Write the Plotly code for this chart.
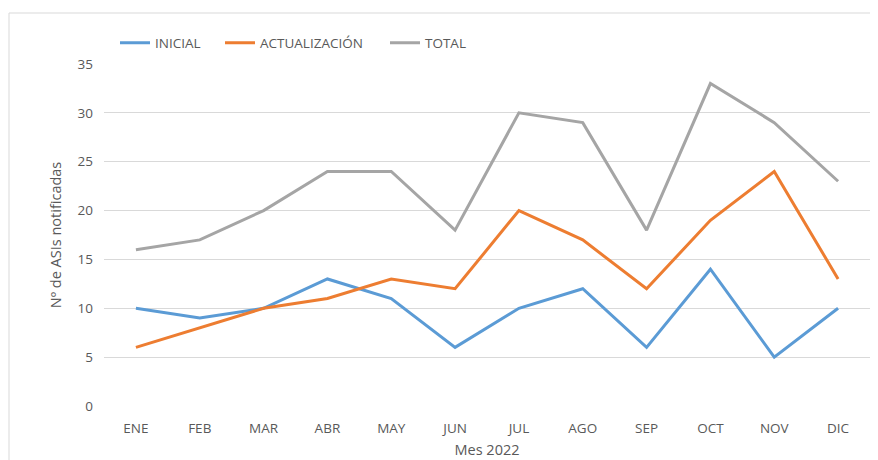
import plotly.graph_objects as go

months = ["ENE", "FEB", "MAR", "ABR", "MAY", "JUN", "JUL", "AGO", "SEP", "OCT", "NOV", "DIC"]
inicial = [10, 9, 10, 13, 11, 6, 10, 12, 6, 14, 5, 10]
actualizacion = [6, 8, 10, 11, 13, 12, 20, 17, 12, 19, 24, 13]
total = [16, 17, 20, 24, 24, 18, 30, 29, 18, 33, 29, 23]
y_ticks = [0, 5, 10, 15, 20, 25, 30, 35]

FONT = "Open Sans"
TXT = "#595959"

# page body has an 8px default margin; compensate so window coords match
OFF = 8
WIN_W, WIN_H = 878, 460
W, H = WIN_W - OFF, WIN_H - OFF
PL, PR, PT, PB = 104, 870, 64, 406  # plot area in window coords
L, R, T, B = PL - OFF, WIN_W - PR, PT - OFF, WIN_H - PB
pw, ph = PR - PL, PB - PT

series = [("INICIAL", inicial, "#5B9BD5", "legend", 115),
          ("ACTUALIZACIÓN", actualizacion, "#ED7D31", "legend2", 220),
          ("TOTAL", total, "#A5A5A5", "legend3", 385)]

fig = go.Figure()
legends = {}
for name, vals, col, lg, lx in series:
    fig.add_trace(go.Scatter(x=months, y=vals, name=name, mode="lines",
                             line=dict(color=col, width=3), legend=lg))
    legends[lg] = dict(orientation="h", x=(lx - PL) / pw, y=1 + (PT - 43) / ph,
                       xanchor="left", yanchor="middle",
                       font=dict(family=FONT, size=13.5, color=TXT),
                       bgcolor="rgba(0,0,0,0)", itemwidth=30)

fig.update_layout(
    width=W, height=H,
    margin=dict(l=L, r=R, t=T, b=B, autoexpand=False),
    paper_bgcolor="white", plot_bgcolor="white",
    font=dict(family=FONT, size=13.5, color=TXT),
    showlegend=True,
    xaxis=dict(type="category", range=[-0.5, len(months) - 0.5],
               showgrid=False, showline=False, ticks="", zeroline=False,
               automargin=False, ticklabelstandoff=12,
               tickfont=dict(size=13.5, color=TXT),
               title=dict(text="Mes 2022", font=dict(size=14.5, color=TXT), standoff=9)),
    yaxis=dict(range=[0, 35], tickvals=y_ticks, showgrid=True, gridcolor="#D9D9D9",
               gridwidth=1, zeroline=False, showline=False, ticks="",
               automargin=False,
               ticklabelstandoff=10,
               tickfont=dict(size=13.5, color=TXT),
               title=dict(text="Nº de ASIs notificadas", font=dict(size=14.5, color=TXT), standoff=12)),
    **legends,
)

fig.add_shape(type="rect", xref="paper", yref="paper",
              x0=(9 - PL) / pw, x1=(WIN_W + 5 - PL) / pw,
              y0=-(WIN_H + 5 - PB) / ph, y1=1 + (PT - 13) / ph,
              line=dict(color="#D9D9D9", width=1), fillcolor="rgba(0,0,0,0)", layer="below")

fig.write_html("out.html")
